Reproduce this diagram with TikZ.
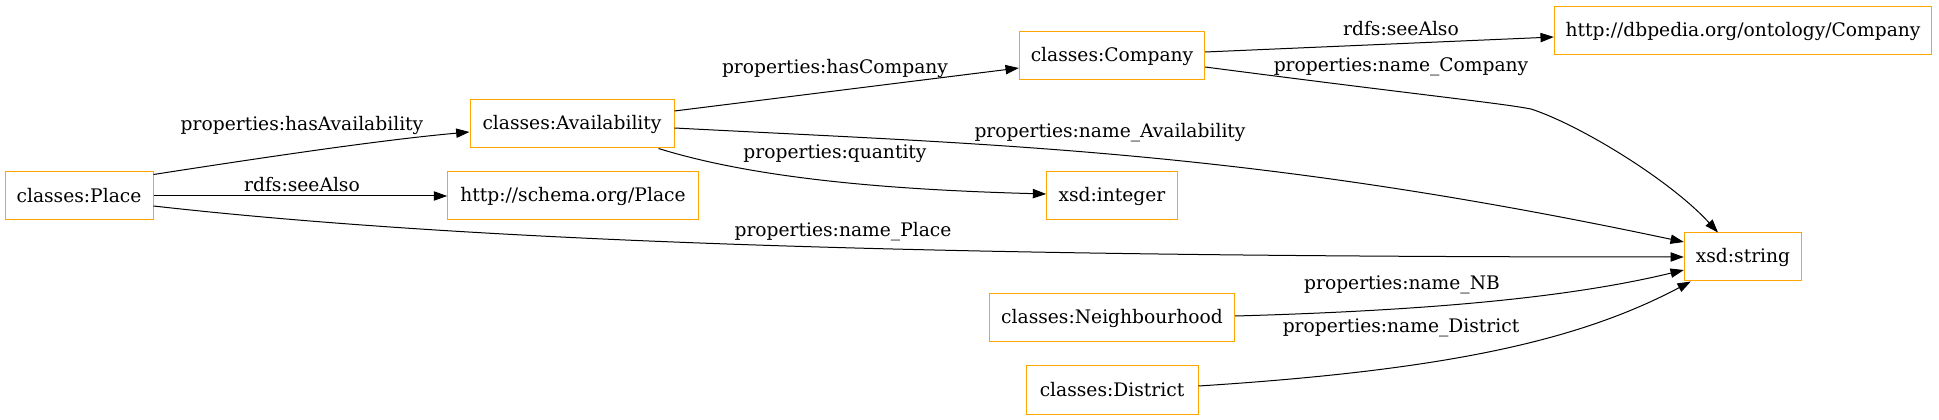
\documentclass[tikz,border=0pt]{standalone}
\usepackage{fontspec}
\setmainfont{DejaVu Serif}
\usetikzlibrary{arrows.meta,calc}
\definecolor{gvorange}{RGB}{255,165,0}
\begin{document}
\begin{tikzpicture}[x=0.75pt,y=-0.75pt,
  box/.style={draw=gvorange, line width=0.75pt, minimum height=36pt, inner xsep=6pt, inner ysep=2pt, font=\fontsize{14}{16}\selectfont},
  edge/.style={-{Triangle[length=10pt,width=7pt]}, line width=0.75pt},
  lbl/.style={inner sep=0pt, font=\fontsize{14}{16}\selectfont}]
\useasboundingbox (0,0) rectangle (1939,420);
\node[box, minimum width=111pt] (place) at (79,196) {classes:Place};
\node[box, minimum width=153pt] (avail) at (572,124) {classes:Availability};
\node[box, minimum width=188pt] (schema) at (573,196) {http://schema.org/Place};
\node[box, minimum width=139pt] (company) at (1112,56) {classes:Company};
\node[box, minimum width=98pt] (integer) at (1112,196) {xsd:integer};
\node[box, minimum width=283pt] (dbpedia) at (1743,31) {http://dbpedia.org/ontology/Company};
\node[box, minimum width=88pt] (string) at (1743,257) {xsd:string};
\node[box, minimum width=184pt] (neigh) at (1112,318) {classes:Neighbourhood};
\node[box, minimum width=129pt] (district) at (1112,390) {classes:District};

\draw[edge] ($(place.north east)+(0,3)$) .. controls (260,158) and (380,140) .. ($(avail.west)+(0,8)$);
\draw[edge] (place.east) -- (schema.west);
\draw[edge] ($(place.east)+(0,10)$) .. controls (500,245) and (1000,257) .. (string.west);
\draw[edge] ($(avail.east)+(0,-13)$) -- ($(company.west)+(0,12)$);
\draw[edge] ($(avail.east)+(0,4)$) .. controls (1000,145) and (1250,150) .. ($(string.west)+(0,-15)$);
\draw[edge] ($(avail.south east)+(-16,0)$) .. controls (760,180) and (900,190) .. ($(integer.west)+(0,-2)$);
\draw[edge] ($(company.east)+(0,-4)$) -- ($(dbpedia.west)+(0,6)$);
\draw[edge] ($(company.east)+(0,11)$) .. controls (1420,95) and (1500,103) .. (1531,109) .. controls (1580,125) and (1670,180) .. ($(string.north)+(-25,0)$);
\draw[edge] ($(neigh.east)+(0,-2)$) .. controls (1450,310) and (1580,295) .. ($(string.west)+(0,13)$);
\draw[edge] ($(district.east)+(0,-4)$) .. controls (1450,370) and (1580,340) .. ($(string.south west)+(7,0)$);

\node[lbl] (l1) at (302,125) {properties:hasAvailability};
\node[lbl] (l2) at (302,185) {rdfs:seeAlso};
\node[lbl] (l3) at (843,232) {properties:name\_Place};
\node[lbl] (l4) at (835,68) {properties:hasCompany};
\node[lbl] (l5) at (1110,133) {properties:name\_Availability};
\node[lbl] (l6) at (835,154) {properties:quantity};
\node[lbl] (l7) at (1401,29) {rdfs:seeAlso};
\node[lbl] (l8) at (1401,67) {properties:name\_Company};
\node[lbl] (l9) at (1402,285) {properties:name\_NB};
\node[lbl] (l10) at (1401,328) {properties:name\_District};
\end{tikzpicture}
\end{document}
